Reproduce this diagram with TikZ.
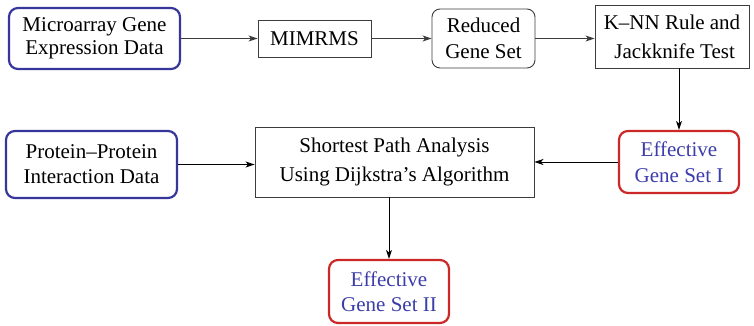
\documentclass[tikz,border=0pt]{standalone}
\usepackage{fontspec}
\setmainfont{Liberation Serif}
\usetikzlibrary{arrows.meta}
\definecolor{inblue}{RGB}{55,55,155}
\definecolor{outred}{RGB}{205,40,40}
\definecolor{txtblue}{RGB}{60,60,170}
\definecolor{linegray}{RGB}{60,60,60}
\tikzset{
  box/.style={draw=linegray, line width=0.9pt, align=center, inner sep=0pt,
    font=\fontsize{21}{26}\selectfont},
  inputbox/.style={box, draw=inblue, line width=2.2pt, rounded corners=9pt},
  resultbox/.style={box, draw=outred, line width=2.2pt, rounded corners=9pt, text=txtblue},
  softbox/.style={box, rounded corners=8pt},
  flow/.style={draw=linegray, line width=1pt, -{Stealth[length=9pt,width=6pt,inset=2.5pt]}}
}
\begin{document}
\begin{tikzpicture}[x=1pt,y=-1pt]
  \useasboundingbox (0,0) rectangle (754,326);
  % top row
  \node[inputbox, minimum width=171pt, minimum height=61pt,
        font=\fontsize{21}{23}\selectfont] (micro) at (94.5,38.5)
        {Microarray Gene\\Expression Data};
  \node[box, minimum width=113pt, minimum height=37pt] (mim) at (314.5,38.5) {MIMRMS};
  \node[softbox, minimum width=103pt, minimum height=59pt] (reduced) at (483.5,38.5)
        {Reduced\\Gene Set};
  \node[box, minimum width=154pt, minimum height=63pt,
        font=\fontsize{21}{29}\selectfont] (knn) at (672,36.5)
        {K--NN Rule and\\\ Jackknife Test};
  % middle row
  \node[inputbox, minimum width=171pt, minimum height=67pt,
        font=\fontsize{21}{25}\selectfont] (ppi) at (91.5,164.5)
        {Protein--Protein\\Interaction Data};
  \node[box, minimum width=279pt, minimum height=70pt,
        font=\fontsize{21}{29}\selectfont] (sp) at (394.5,162)
        {Shortest Path Analysis\\Using Dijkstra's Algorithm};
  \node[resultbox, minimum width=120pt, minimum height=62pt] (eff1) at (679,162)
        {Effective\\Gene Set I};
  % bottom row
  \node[resultbox, minimum width=120pt, minimum height=63pt,
        font=\fontsize{21}{25}\selectfont] (eff2) at (389,291.5)
        {Effective\\Gene Set II};
  % connectors
  \draw[flow] (micro.east) -- (mim.west);
  \draw[flow] (mim.east) -- (reduced.west);
  \draw[flow] (reduced.east) -- (reduced.east -| knn.west);
  \draw[flow, draw=black] (eff1.north |- knn.south) -- (eff1.north);
  \draw[flow, draw=black] (eff1.west) -- (eff1.west -| sp.east);
  \draw[flow, draw=black] (ppi.east) -- (ppi.east -| sp.west);
  \draw[flow, draw=black] (eff2.north |- sp.south) -- (eff2.north);
\end{tikzpicture}
\end{document}
